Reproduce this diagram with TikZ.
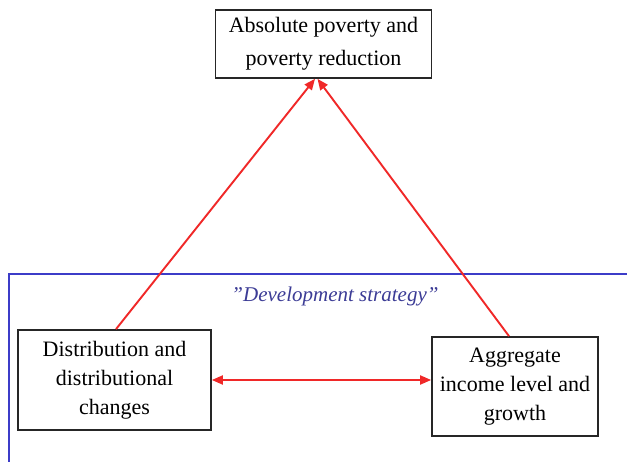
\documentclass[tikz,border=0pt]{standalone}
\usepackage{fontspec}
\setmainfont{Liberation Serif}
\usetikzlibrary{arrows.meta}
\definecolor{framebl}{RGB}{60,60,200}
\definecolor{labelbl}{RGB}{60,60,150}
\definecolor{arrred}{RGB}{240,40,40}
\tikzset{
  boxnode/.style={draw=black!85, line width=1.7pt, inner sep=0pt, align=center,
    font=\fontsize{22}{30}\selectfont},
  link/.style={draw=arrred, line width=1.9pt, -{Triangle[length=11pt,width=9pt]}},
  biglink/.style={draw=arrred, line width=1.9pt, {Triangle[length=11pt,width=9pt]}-{Triangle[length=11pt,width=9pt]}},
  frameline/.style={draw=framebl, line width=1.1pt}
}
\begin{document}
\begin{tikzpicture}[x=1pt,y=-1pt]
\useasboundingbox (0,0) rectangle (627,462);
\fill[white] (0,0) rectangle (627,462);
% frame of development strategy
\coordinate (fbl) at (9,462);
\coordinate (ftl) at (9,274);
\coordinate (ftr) at (627,274);
\draw[frameline] (fbl) -- (ftl) -- (ftr);
\node[font=\fontsize{21}{26}\selectfont\itshape, text=labelbl] (lab) at (335,296) {\symbol{"22}Development strategy\symbol{"22}};
% boxes
\node[boxnode, minimum width=216pt, minimum height=68pt, font=\fontsize{22}{33}\selectfont] (top) at (323.5,44)
  {Absolute poverty and\\poverty reduction};
\node[boxnode, minimum width=193pt, minimum height=100pt, font=\fontsize{22}{29}\selectfont] (dist) at (114.5,380)
  {Distribution and\\distributional\\changes};
\node[boxnode, minimum width=166pt, minimum height=99pt, font=\fontsize{22}{29}\selectfont] (agg) at (515,386.5)
  {Aggregate\\income level and\\growth};
% connectors
\draw[link] ([xshift=1.5pt]dist.north) -- ([xshift=-8.5pt]top.south);
\draw[link] ([xshift=-6pt]agg.north) -- ([xshift=-6pt]top.south);
\draw[biglink] (dist.east) -- (dist.east -| agg.west);
\end{tikzpicture}
\end{document}
